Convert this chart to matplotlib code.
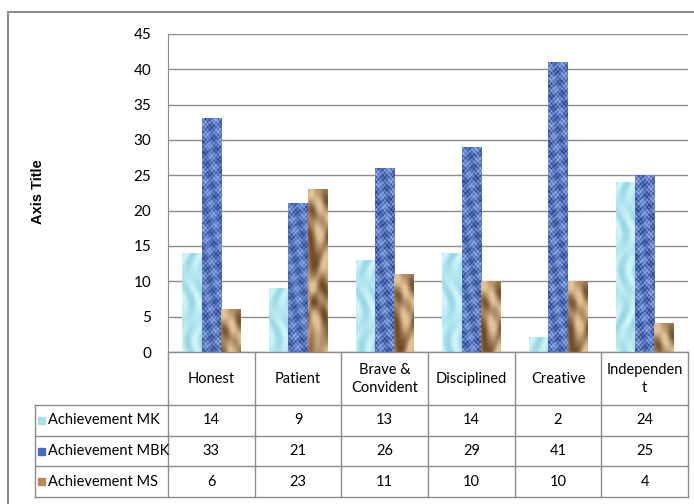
import numpy as np
import matplotlib.pyplot as plt
from matplotlib.patches import Rectangle
from matplotlib.transforms import blended_transform_factory

# values per trait
categories = ['Honest', 'Patient', 'Brave &\nConvident', 'Disciplined', 'Creative', 'Independen\nt']
series_names = ['Achievement MK', 'Achievement MBK', 'Achievement MS']
mk = [14, 9, 13, 14, 2, 24]
mbk = [33, 21, 26, 29, 41, 25]
ms = [6, 23, 11, 10, 10, 4]

plt.rcParams['font.family'] = ['Lato', 'DejaVu Sans']

W, H = 694, 504
fig = plt.figure(figsize=(W / 100, H / 100), dpi=100)


def fx(px):
    return px / W


def fy(py):
    return 1 - py / H


def texture(kind, w, h):
    # simple procedural fills: water, denim, sand
    w = max(int(round(w)), 2)
    h = max(int(round(h)), 2)
    y, x = np.mgrid[0:h, 0:w].astype(float)
    if kind == 'water':
        lo, hi = np.array([150, 215, 228]), np.array([210, 245, 250])
        v = 0.5 + 0.5 * np.sin(x * 0.45 + 2.5 * np.sin(y * 0.09)) * np.cos(y * 0.07)
    elif kind == 'denim':
        lo, hi = np.array([35, 62, 140]), np.array([150, 180, 240])
        weave = np.sin(x * 1.6) * np.sin(y * 1.25 + 0.8 * np.sin(x * 0.5))
        mottle = np.sin(x * 0.35 + y * 0.21) * np.sin(y * 0.33 - x * 0.17)
        v = np.clip(0.5 + 0.45 * weave + 0.3 * mottle, 0, 1)
    else:
        lo, hi = np.array([110, 72, 38]), np.array([225, 195, 150])
        a = np.sin(y * 0.09 + 2.0 * np.sin(x * 0.22 + y * 0.05))
        b = np.sin(x * 0.31 - y * 0.14 + 1.5 * np.cos(y * 0.07))
        v = np.clip(0.55 + 0.3 * a + 0.25 * b, 0, 1)
    img = lo[None, None, :] * (1 - v[..., None]) + hi[None, None, :] * v[..., None]
    return img / 255.0


ax = fig.add_axes([fx(168), fy(352), fx(688) - fx(168), fy(34) - fy(352)])
n = len(categories)
x = np.arange(n)
bw = 1 / 4.5
kinds = ['water', 'denim', 'sand']
base_colors = ['#a9e2ea', '#4a6cc0', '#b48a5c']

px_per_unit_x = (688 - 168) / n
px_per_unit_y = (352 - 34) / 45

for i, (vals, kind, col) in enumerate(zip([mk, mbk, ms], kinds, base_colors)):
    bars = ax.bar(x + (i - 1) * bw, vals, bw, color=col, linewidth=0, zorder=2)
    for b in bars:
        x0, bh = b.get_x(), b.get_height()
        tex = texture(kind, b.get_width() * px_per_unit_x, bh * px_per_unit_y)
        ax.imshow(tex, extent=[x0, x0 + b.get_width(), 0, bh], aspect='auto',
                  interpolation='bilinear', zorder=3)

ax.set_xlim(-0.5, n - 0.5)
ax.set_ylim(0, 45)
ax.set_yticks(range(0, 50, 5))
ax.tick_params(axis='y', length=0, labelsize=11, pad=12)
ax.set_xticks([])
ax.yaxis.grid(True, color='#8c8c8c', linewidth=1)
ax.set_axisbelow(True)
for s in ['top', 'right', 'bottom']:
    ax.spines[s].set_visible(False)
ax.spines['left'].set_color('#8c8c8c')

fig.text(fx(38), fy(192), 'Axis Title', rotation=90, ha='center', va='center',
         fontsize=10.5, fontweight='bold', family=['Liberation Sans', 'DejaVu Sans'])

# data table under the plot
tr = blended_transform_factory(ax.transData, fig.transFigure)
line_col = '#8c8c8c'
row_y = [352, 405, 436, 466, 497]
for yy in row_y:
    left = 168 if yy == 352 else 35
    fig.add_artist(plt.Line2D([fx(left), fx(688)], [fy(yy), fy(yy)],
                              color=line_col, linewidth=1))
for k in range(n + 1):
    fig.add_artist(plt.Line2D([k - 0.5, k - 0.5], [fy(352), fy(497)], transform=tr,
                              color=line_col, linewidth=1))
fig.add_artist(plt.Line2D([fx(35), fx(35)], [fy(405), fy(497)],
                          color=line_col, linewidth=1))

for k, c in enumerate(categories):
    fig.text(k, fy(379), c, transform=tr, ha='center', va='center',
             fontsize=10.5, linespacing=1.3)

for r, (name, vals, col, kind) in enumerate(zip(series_names, [mk, mbk, ms], base_colors, kinds)):
    yc = (row_y[r + 1] + row_y[r + 2]) / 2
    fig.add_artist(Rectangle((fx(38), fy(yc + 3.5)), fx(7), 7 / H, color=col))
    fig.text(fx(48), fy(yc), name, ha='left', va='center', fontsize=10.5)
    for k, v in enumerate(vals):
        fig.text(k, fy(yc), str(v), transform=tr, ha='center', va='center', fontsize=10.5)

# chart frame
fig.add_artist(Rectangle((fx(8), fy(520)), fx(700), 508 / H, fill=False,
                         edgecolor='#8c8c8c', linewidth=1.5))

fig.savefig('out.png', dpi=100)
